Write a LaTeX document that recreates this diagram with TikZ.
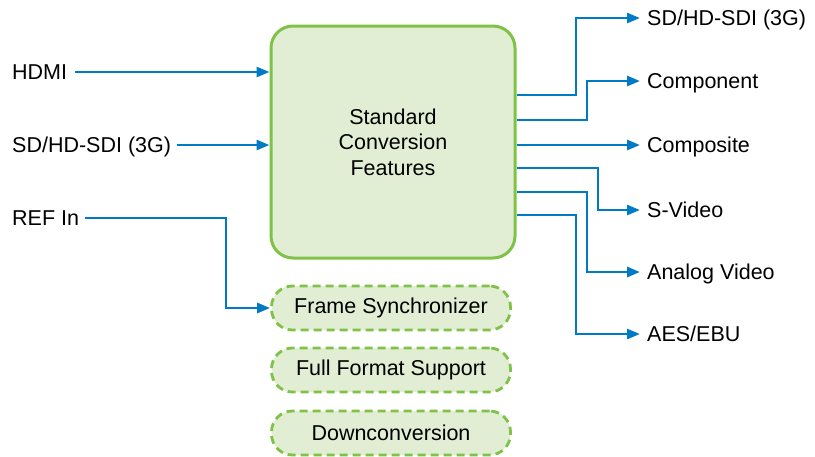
\documentclass[tikz,border=0pt]{standalone}
\usepackage{fontspec}
\setmainfont{Liberation Sans}
\usetikzlibrary{arrows.meta}
\definecolor{sigblue}{RGB}{0,122,196}
\definecolor{boxgreen}{RGB}{128,194,72}
\definecolor{boxfill}{RGB}{225,238,211}
\tikzset{
  feat/.style={draw=boxgreen, fill=boxfill, line width=3pt, rounded corners=22pt,
    minimum width=244pt, minimum height=232pt, align=center},
  extra/.style={draw=boxgreen, fill=boxfill, line width=2.8pt, dash pattern=on 8pt off 5pt,
    rounded corners=21pt, minimum width=239pt, minimum height=44pt},
  lbl/.style={inner sep=0pt, text height=15pt, text depth=0pt, anchor=west},
  sig/.style={draw=sigblue, line width=2.7pt, -{Triangle[length=13pt,width=10pt]}}
}
\begin{document}
\begin{tikzpicture}[x=1pt, y=-1pt, font=\fontsize{21.5}{25.5}\selectfont]
    \useasboundingbox (0,0) rectangle (815,456);
    \node[feat] (box) at (393,142) {Standard\\Conversion\\Features};
    \node[extra] (sync) at (391,308) {Frame Synchronizer};
    \node[extra] (fullfmt) at (391,370) {Full Format Support};
    \node[extra] (downconv) at (391,433) {Downconversion};
    % inputs
    \node[lbl] (hdmi) at (12,72) {HDMI};
    \node[lbl] (sdin) at (12,145) {SD/HD-SDI (3G)};
    \node[lbl] (refin) at (12,218) {REF In};
    \coordinate (refbend) at (226,218);
    \draw[sig] ([xshift=8pt]hdmi.east) -- (hdmi -| box.west);
    \draw[sig] ([xshift=6pt]sdin.east) -- (sdin -| box.west);
    \draw[sig] ([xshift=6pt]refin.east) -- (refbend) |- (sync.west);
    % outputs
    \foreach \i/\sy/\tx/\ly/\txt in {1/95/576/18/{SD/HD-SDI (3G)}, 2/120/587/81/Component,
        3/145/600/145/Composite, 4/168/598/210/S-Video, 5/192/587/272/Analog Video,
        6/215/576/334/{AES/EBU}} {
      \node[lbl] (out\i) at (647,\ly) {\txt};
      \path (box.east) ++(0,\sy-142) coordinate (src\i);
      \draw[sig] (src\i) -- (\tx,\sy) |- ([xshift=-7pt]out\i.west);
    }
\end{tikzpicture}
\end{document}
